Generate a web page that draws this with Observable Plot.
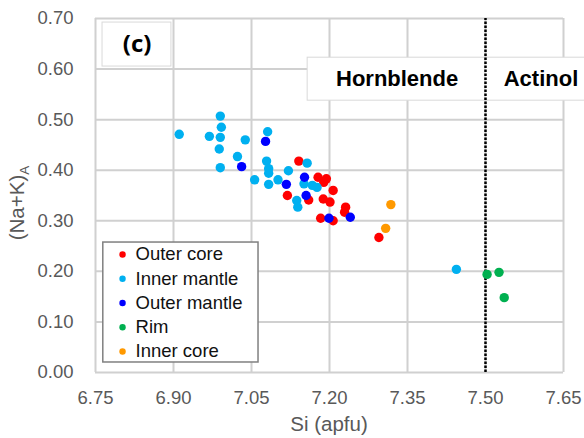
<!DOCTYPE html>
<html>
<head>
<meta charset="utf-8">
<script src="https://cdn.jsdelivr.net/npm/d3@7"></script>
<script src="https://cdn.jsdelivr.net/npm/@observablehq/plot@0.6"></script>
<style>
  html, body { margin: 0; padding: 0; background: #fff; overflow: hidden; }
</style>
</head>
<body>
<div id="chart"></div>
<script>
// Amphibole analyses: Si (apfu) against (Na+K) in the A site, by zone
const seriesNames = ["Outer core", "Inner mantle", "Outer mantle", "Rim", "Inner core"];
const seriesColors = ["#FF0000", "#00B0F0", "#0000FF", "#00B050", "#FF9900"];

// [Si, (Na+K)A]
const outerCore = [
  [7.141, 0.418], [7.178, 0.386], [7.194, 0.383], [7.189, 0.376], [7.207, 0.360],
  [7.119, 0.350], [7.160, 0.341], [7.188, 0.343], [7.201, 0.337], [7.231, 0.327],
  [7.229, 0.317], [7.183, 0.305], [7.207, 0.300], [7.295, 0.267]
];
const innerMantle = [
  [6.990, 0.507], [6.992, 0.485], [6.911, 0.471], [6.969, 0.467], [6.990, 0.465],
  [7.038, 0.460], [7.081, 0.476], [6.988, 0.442], [7.023, 0.427], [6.990, 0.405],
  [7.079, 0.418], [7.083, 0.403], [7.083, 0.394], [7.056, 0.381], [7.083, 0.372],
  [7.101, 0.381], [7.121, 0.399], [7.157, 0.414], [7.151, 0.373], [7.167, 0.370],
  [7.176, 0.366], [7.137, 0.340], [7.139, 0.327], [7.444, 0.204]
];
const outerMantle = [
  [7.077, 0.457], [7.031, 0.407], [7.117, 0.372], [7.152, 0.386], [7.155, 0.350],
  [7.240, 0.307], [7.199, 0.305]
];
const rim = [[7.503, 0.194], [7.526, 0.198], [7.536, 0.148]];
const innerCore = [[7.318, 0.332], [7.308, 0.285]];

const seriesValues = [outerCore, innerMantle, outerMantle, rim, innerCore];

const xTicks = [6.75, 6.90, 7.05, 7.20, 7.35, 7.50, 7.65];
const yTicks = [0, 0.1, 0.2, 0.3, 0.4, 0.5, 0.6, 0.7];

// Hornblende / actinolite boundary
const boundarySi = [7.50];

// Label boxes: panel tag and the two mineral fields
const boxX1 = [6.7635, 7.158, 7.50];
const boxX2 = [6.896, 7.50, 7.70];
const boxY1 = [0.605, 0.5375, 0.5375];
const boxY2 = [0.692, 0.6225, 0.6225];
const boxText = ["(c)", "Hornblende", "Actinol"];
const boxTextX = [6.830, 7.330, 7.535];
const boxTextY = [0.648, 0.580, 0.580];

// Legend layout in data units
const legendBox = {x1: 6.765, x2: 7.0635, y1: 0.0198, y2: 0.257};
const legendDotX = 6.802;
const legendTextX = 6.827;
const legendTopY = 0.2332;
const legendStep = 0.0479;

const points = seriesValues.flatMap((vals, i) =>
  vals.map(([si, nak]) => ({series: seriesNames[i], si, nak}))
);
const boxes = boxText.map((t, i) => ({
  text: t, x1: boxX1[i], x2: boxX2[i], y1: boxY1[i], y2: boxY2[i],
  tx: boxTextX[i], ty: boxTextY[i]
}));
const legendRows = seriesNames.map((name, i) => ({
  name, y: legendTopY - i * legendStep
}));

const fmt = d3.format(".2f");
const gridStyle = {stroke: "#d0d0d0", strokeOpacity: 1, strokeWidth: 2};
const fieldText = {x: "tx", y: "ty", text: "text", fontSize: 22, fontWeight: "bold", fill: "#000"};

const chart = Plot.plot({
  width: 584,
  height: 438,
  marginLeft: 95,
  marginRight: 21,
  marginTop: 18,
  marginBottom: 66,
  style: {
    fontFamily: "'Liberation Sans', Arial, sans-serif",
    fontSize: "18.5px",
    color: "#595959",
    background: "#fff"
  },
  x: {domain: [6.75, 7.65]},
  y: {domain: [0, 0.7]},
  color: {domain: seriesNames, range: seriesColors},
  marks: [
    Plot.gridX(xTicks, gridStyle),
    Plot.gridY(yTicks, gridStyle),
    Plot.axisX(xTicks, {tickSize: 0, tickPadding: 18, tickFormat: fmt, label: null, fontSize: 18.5}),
    Plot.axisY(yTicks, {tickSize: 0, tickPadding: 22, tickFormat: fmt, label: null, fontSize: 18.5}),
    Plot.rect(boxes, {x1: "x1", x2: "x2", y1: "y1", y2: "y2", fill: "#fff", stroke: "#d9d9d9", strokeWidth: 1}),
    Plot.text(boxes.slice(0, 1), {x: "tx", y: "ty", text: "text", fontSize: 24, fontWeight: "bold",
      fontFamily: "'Open Sans', sans-serif", fill: "#000"}),
    Plot.text(boxes.slice(1, 2), {...fieldText, textAnchor: "middle"}),
    Plot.text(boxes.slice(2), {...fieldText, textAnchor: "start"}),
    Plot.ruleX(boundarySi, {y1: 0, y2: 0.7, stroke: "#000", strokeWidth: 2.5, strokeDasharray: "2.5,1.5"}),
    Plot.dot(points, {x: "si", y: "nak", fill: "series", r: 4.7}),
    Plot.rect([legendBox], {x1: "x1", x2: "x2", y1: "y1", y2: "y2", fill: "#fff", stroke: "#808080", strokeWidth: 1.5}),
    Plot.dot(legendRows, {x: legendDotX, y: "y", fill: "name", r: 3.2}),
    Plot.text(legendRows, {x: legendTextX, y: "y", text: "name", textAnchor: "start", fontSize: 18.5, fill: "#111"})
  ]
});

// Axis titles
const svg = d3.select(chart);
const xr = chart.scale("x").range;
const yr = chart.scale("y").range;

svg.append("text")
  .attr("x", (xr[0] + xr[1]) / 2)
  .attr("y", 431)
  .attr("text-anchor", "middle")
  .attr("font-size", 20.5)
  .attr("fill", "#595959")
  .text("Si (apfu)");

const yTitle = svg.append("text")
  .attr("transform", `translate(24,${(yr[0] + yr[1]) / 2 + 8}) rotate(-90)`)
  .attr("text-anchor", "middle")
  .attr("font-size", 20.5)
  .attr("fill", "#595959");
yTitle.append("tspan").text("(Na+K)");
yTitle.append("tspan").attr("font-size", 13.5).attr("dy", 5).text("A");

document.getElementById("chart").append(chart);
</script>
</body>
</html>
